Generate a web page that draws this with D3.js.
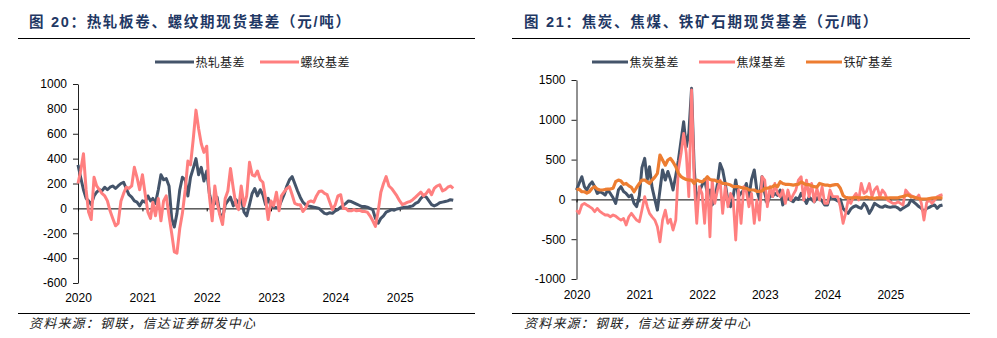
<!DOCTYPE html>
<html><head><meta charset="utf-8">
<script src="https://cdn.jsdelivr.net/npm/d3@7"></script>
<style>
html,body{margin:0;padding:0;background:#fff;}
svg{display:block;}
</style></head><body>
<svg id="c" width="997" height="338"></svg>
<script>
// ---- Data (semi-monthly readings, 1st & 16th of each month, Jan 2020 – mid Oct 2025) ----
const hrcBasis = [ // 热轧基差
  350,250,150,80,60,30,100,130,150,140,170,150,170,180,160,180,200,210,160,110,90,60,50,20,
  60,50,100,60,80,40,150,270,230,240,180,-80,-150,-40,150,250,230,100,250,320,400,270,330,220,
  300,120,20,40,90,-40,-80,30,60,90,20,70,40,80,-30,-60,30,120,160,100,150,110,30,80,
  20,10,5,15,60,110,180,230,255,200,140,90,50,30,20,15,10,5,0,-20,-40,-45,-35,-40,
  -20,-10,10,25,40,60,55,45,35,25,15,15,10,0,-10,-80,-120,-80,-60,-30,-20,-10,-15,-5,
  0,5,10,10,15,20,40,50,80,100,90,60,30,20,30,45,50,55,60,70,65
];
const rebarBasis = [ // 螺纹基差
  200,300,440,150,-30,-90,250,180,150,120,100,60,-20,-80,-140,-120,60,120,170,160,180,330,250,150,
  270,120,-30,-80,50,-60,80,-100,60,100,-60,-200,-350,-360,-160,-40,150,380,350,550,790,640,520,450,
  500,100,-100,180,50,-50,-130,80,140,320,160,30,-10,180,20,100,370,270,260,300,230,210,80,-90,
  60,20,130,-20,100,130,160,175,110,40,30,30,-25,0,50,60,50,100,135,140,120,110,50,-10,
  30,100,110,0,0,-20,-20,-10,-20,-15,-25,-25,-30,-60,-100,-145,-20,130,200,255,180,160,130,100,
  60,30,40,50,55,70,90,110,130,100,120,150,110,160,180,190,140,150,170,180,160
];
const cokeBasis = [ // 焦炭基差
  118,200,285,160,118,180,220,160,75,96,80,55,118,75,20,-50,118,160,100,75,34,55,-50,-90,
  50,400,515,243,410,150,0,-134,118,370,243,350,250,118,300,490,745,975,660,830,1395,400,-50,100,
  180,250,75,118,-70,0,200,450,370,200,-20,-92,34,243,34,80,118,200,34,250,370,118,0,285,
  80,-50,50,40,75,50,118,-70,0,20,-10,-30,20,0,75,20,-50,30,0,-30,20,15,-20,-70,
  -70,34,20,0,-20,0,-113,-150,-175,-120,-92,-80,-100,-113,-50,-90,-175,-120,-50,-70,-92,-100,-80,-92,
  -100,-92,-92,-110,-134,-110,-90,-70,-8,-30,-60,-90,-113,-155,-113,-100,-80,-70,-113,-80,-70
];
const cokingCoalBasis = [ // 焦煤基差
  -134,-175,-70,-50,-70,-90,-113,-155,-113,-150,-175,-196,-196,-218,-196,-210,-238,-260,-240,-322,-218,-175,-220,-260,
  -280,-134,34,-92,-175,-220,-260,-343,-532,-260,-134,-300,-250,-385,-260,370,580,830,580,34,1375,243,-300,160,
  75,-300,243,-470,243,-50,118,243,-175,160,-92,75,0,-510,118,-300,160,100,-92,75,-300,-8,-260,285,
  243,-92,160,34,200,75,34,118,-50,118,-8,60,118,243,285,-8,243,34,200,-30,140,-8,160,-50,
  -50,118,34,34,34,-92,-300,-175,-8,-50,30,75,-8,200,75,100,200,34,120,160,34,118,75,-8,
  -30,-50,-50,-30,-50,-70,118,75,50,34,13,55,-50,-260,-40,-8,-50,-8,34,50,60
];
const ironOreBasis = [ // 铁矿基差
  118,130,96,96,80,96,140,160,130,118,118,125,130,130,140,222,243,230,190,200,170,150,96,150,
  200,243,243,220,200,243,280,327,557,495,430,495,515,470,410,330,285,265,250,243,243,200,243,230,
  220,243,285,250,243,243,225,225,200,200,190,180,160,160,160,150,140,140,120,118,118,100,100,105,
  140,140,150,160,180,160,222,200,190,190,185,180,185,190,220,200,185,185,170,160,155,200,190,180,
  180,170,180,185,185,140,50,25,20,20,20,25,20,20,20,30,20,20,10,20,20,20,15,15,
  20,20,20,20,30,35,50,55,35,30,20,10,5,5,5,10,15,20,20,20,20
];
const yearLabels = ["2020","2021","2022","2023","2024","2025"];
const leftYTicks = [-600,-400,-200,0,200,400,600,800,1000];
const rightYTicks = [-1000,-500,0,500,1000,1500];
const leftNames = ["热轧基差","螺纹基差"];
const rightNames = ["焦炭基差","焦煤基差","铁矿基差"];
const leftTitle = "图 20：热轧板卷、螺纹期现货基差（元/吨）";
const rightTitle = "图 21：焦炭、焦煤、铁矿石期现货基差（元/吨）";
const sourceText = "资料来源：钢联，信达证券研发中心";
const NAVY = "#44546A", PINK = "#FF7F7F", ORANGE = "#ED7D31";

const dates = d3.range(hrcBasis.length).map(i => new Date(Date.UTC(2020, Math.floor(i/2), i%2 ? 16 : 1)));
const yearDates = yearLabels.map(y => new Date(Date.UTC(+y,0,1)));

const svg = d3.select("#c");
svg.append("rect").attr("width",997).attr("height",338).attr("fill","#fff");
const FONT = "'Liberation Sans', Arial, 'Noto Sans CJK SC', sans-serif";
const CJK = "'Noto Sans CJK SC', sans-serif";

function panel(cfg) {
  const g = svg.append("g");
  // title
  g.append("text").attr("x", cfg.titleX).attr("y", 27).text(cfg.title)
    .attr("font-family", FONT).attr("font-weight", "bold").attr("font-size", 14.5)
    .attr("letter-spacing", 1.7).attr("fill", "#1F3864");
  g.append("line").attr("x1", cfg.ruleX1).attr("x2", cfg.ruleX2).attr("y1", 38.5).attr("y2", 38.5)
    .attr("stroke", "#000").attr("stroke-width", 1);
  g.append("line").attr("x1", cfg.ruleX1).attr("x2", cfg.ruleX2).attr("y1", 313.5).attr("y2", 313.5)
    .attr("stroke", "#000").attr("stroke-width", 1);
  g.append("text").attr("x", cfg.titleX).attr("y", 328).text(sourceText)
    .attr("font-family", CJK).attr("font-style", "italic").attr("font-size", 13)
    .attr("letter-spacing", 1.2).attr("fill", "#222");

  const x = d3.scaleUtc().domain([new Date(Date.UTC(2020,0,1)), new Date(Date.UTC(2025,9,25))]).range(cfg.xRange);
  const y = d3.scaleLinear().domain(cfg.yDomain).range(cfg.yRange);

  // y axis
  const ya = g.append("g").attr("transform", `translate(${cfg.xRange[0]},0)`)
    .call(d3.axisLeft(y).tickValues(cfg.yTicks).tickSize(5).tickSizeOuter(0).tickPadding(6).tickFormat(d => String(d)));
  ya.attr("font-family", FONT).attr("font-size", 12);
  ya.selectAll("text").attr("fill", "#000");
  ya.selectAll("line,path").attr("stroke", "#222");

  // zero line with year ticks
  const za = g.append("g").attr("transform", `translate(0,${y(0)})`)
    .call(d3.axisBottom(x).tickValues(yearDates).tickSize(3).tickSizeOuter(0).tickFormat(""));
  za.selectAll("line,path").attr("stroke", "#000");

  // year labels at bottom
  const xa = g.append("g").attr("transform", `translate(0,${cfg.yRange[0]})`)
    .call(d3.axisBottom(x).tickValues(yearDates).tickSize(0).tickPadding(cfg.xPad).tickFormat((d,i) => yearLabels[i]));
  xa.select(".domain").remove();
  xa.attr("font-family", FONT).attr("font-size", 12);
  xa.selectAll("text").attr("fill", "#000");

  // lines
  const line = d3.line().x((d,i) => x(dates[i])).y(d => y(d));
  cfg.series.forEach(s => {
    g.append("path").datum(s.values).attr("d", line).attr("fill", "none")
      .attr("stroke", s.color).attr("stroke-width", s.width || 3).attr("stroke-linejoin", "round");
  });

  // legend
  cfg.series.forEach((s, i) => {
    const lx = cfg.legX + i * cfg.legStep;
    g.append("line").attr("x1", lx).attr("x2", lx + cfg.legLen).attr("y1", 62).attr("y2", 62)
      .attr("stroke", s.color).attr("stroke-width", 3);
    g.append("text").attr("x", lx + cfg.legLen + 1.5).attr("y", 66.5).text(s.name)
      .attr("font-family", CJK).attr("font-size", 12).attr("letter-spacing", 0.3).attr("fill", "#222");
  });
}

panel({
  title: leftTitle, titleX: 29, ruleX1: 18, ruleX2: 475,
  xRange: [78, 452], yDomain: [-600, 1000], yRange: [283, 84], yTicks: leftYTicks, xPad: 10,
  legX: 155, legStep: 105, legLen: 39,
  series: [
    {name: leftNames[0], values: hrcBasis, color: NAVY},
    {name: leftNames[1], values: rebarBasis, color: PINK}
  ]
});
panel({
  title: rightTitle, titleX: 524, ruleX1: 512, ruleX2: 970,
  xRange: [576.5, 941.3], yDomain: [-1000, 1500], yRange: [279, 80], yTicks: rightYTicks, xPad: 11,
  legX: 592, legStep: 107, legLen: 36,
  series: [
    {name: rightNames[0], values: cokeBasis, color: NAVY},
    {name: rightNames[1], values: cokingCoalBasis, color: PINK, width: 2.8},
    {name: rightNames[2], values: ironOreBasis, color: ORANGE, width: 3.2}
  ]
});
</script>
</body></html>
